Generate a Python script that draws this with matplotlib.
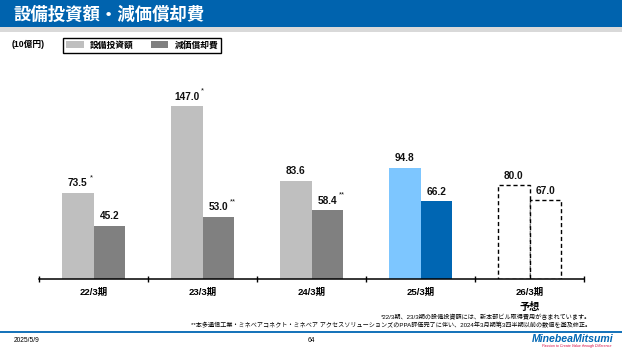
import matplotlib
matplotlib.use("Agg")
import matplotlib.pyplot as plt
from matplotlib.patches import Rectangle, Patch
from matplotlib.lines import Line2D

plt.rcParams["font.family"] = ["Liberation Sans", "Noto Sans CJK JP"]
plt.rcParams["axes.unicode_minus"] = False

# data (10億円)
periods = ["22/3期", "23/3期", "24/3期", "25/3期", "26/3期"]
capex = [73.5, 147.0, 83.6, 94.8, 80.0]
depreciation = [45.2, 53.0, 58.4, 66.2, 67.0]
capex_notes = ["*", "*", "", "", ""]
dep_notes = ["", "**", "**", "", ""]
forecast = [False, False, False, False, True]

series_names = ["設備投資額", "減価償却費"]
unit_label = "(10億円)"
title = "設備投資額・減価償却費"
forecast_label = "予想"
footnote1 = "*22/3期、23/3期の設備投資額には、新本部ビル取得費用が含まれています。"
footnote2 = ("**本多通信工業・ミネベアコネクト・ミネベア アクセスソリューションズのPPA評価完了に伴い、"
             "2024年3月期第3四半期以前の数値を遡及修正。")

LIGHT_GRAY = "#BFBFBF"
DARK_GRAY = "#808080"
LIGHT_BLUE = "#7DC6FF"
DARK_BLUE = "#0066B3"
HEADER_BLUE = "#0063AE"

W, H = 622, 350
fig = plt.figure(figsize=(W / 100, H / 100), dpi=100)
fig.patch.set_facecolor("white")


def fx(px):
    return px / W


def fy(py):
    return 1 - py / H


# header band
fig.patches.append(Rectangle((0, fy(27)), 1, 27 / H, transform=fig.transFigure,
                             facecolor=HEADER_BLUE, edgecolor="none", zorder=0))
fig.patches.append(Rectangle((0, fy(32)), 1, 5 / H, transform=fig.transFigure,
                             facecolor="#D9D9D9", edgecolor="none", zorder=0))
fig.text(fx(13), fy(15), title, color="white", fontsize=12.5, fontweight="bold",
         family=["Noto Sans CJK JP"], ha="left", va="center")

# axes
base_px, top_px = 279, 60
ax = fig.add_axes([fx(39), 1 - base_px / H, fx(584) - fx(39), (base_px - top_px) / H])
px_per_unit = 1.175
ax.set_ylim(0, (base_px - top_px) / px_per_unit)
ax.set_xlim(-0.5, len(periods) - 0.5)

bw = 0.292
x = list(range(len(periods)))


def label_bar(xc, val, note):
    t = ax.annotate(f"{val:.1f}", xy=(xc, val), xytext=(0, 3.2), textcoords="offset points",
                    ha="center", va="bottom", fontsize=7.3, fontweight="bold", color="#111111")
    if note:
        ax.annotate(note, xy=(1, 1), xycoords=t, xytext=(1.5, 3.0), textcoords="offset points",
                    ha="left", va="top", fontsize=5.5, color="#111111")


for i in x:
    if forecast[i]:
        for off, val in ((-bw / 2, capex[i]), (bw / 2, depreciation[i])):
            ax.bar(x[i] + off, val, width=bw, facecolor="white", edgecolor="black",
                   linewidth=1.0, linestyle=(0, (3, 2)), zorder=2)
    else:
        c1 = LIGHT_BLUE if i == 3 else LIGHT_GRAY
        c2 = DARK_BLUE if i == 3 else DARK_GRAY
        ax.bar(x[i] - bw / 2, capex[i], width=bw, color=c1, linewidth=0, zorder=2)
        ax.bar(x[i] + bw / 2, depreciation[i], width=bw, color=c2, linewidth=0, zorder=2)
    label_bar(x[i] - bw / 2, capex[i], capex_notes[i])
    label_bar(x[i] + bw / 2, depreciation[i], dep_notes[i])

for s in ("top", "left", "right"):
    ax.spines[s].set_visible(False)
ax.spines["bottom"].set_linewidth(1.1)
ax.spines["bottom"].set_zorder(3)
ax.set_yticks([])
ax.set_xticks(x)
ax.set_xticklabels(periods, fontsize=6.8, fontweight="bold")
ax.tick_params(axis="x", which="major", length=0, pad=6.5)
ax.set_xticks([i - 0.5 for i in range(len(periods) + 1)], minor=True)
ax.tick_params(axis="x", which="minor", direction="inout", length=5, width=1.0)
ax.patch.set_alpha(0)

# forecast label
ax.annotate(forecast_label, xy=(x[-1], 0), xycoords="data", xytext=(0, -20),
            textcoords="offset points", ha="center", va="center",
            fontsize=7.3, fontweight="bold")

# unit and legend
fig.text(fx(12), fy(44), unit_label, fontsize=6.3, fontweight="bold", ha="left", va="center")
handles = [Patch(facecolor=LIGHT_GRAY, edgecolor="none"),
           Patch(facecolor=DARK_GRAY, edgecolor="none")]
leg = fig.legend(handles, series_names, loc="upper left", bbox_to_anchor=(fx(63), fy(37.5)),
                 ncol=2, fontsize=6.3, frameon=True, fancybox=False, framealpha=1,
                 edgecolor="black", handlelength=2.0, handleheight=0.8, handletextpad=0.7,
                 columnspacing=2.0, borderpad=0.35, borderaxespad=0)
leg.get_frame().set_linewidth(1.0)
for t in leg.get_texts():
    t.set_fontweight("bold")

# footnotes
fig.text(fx(591), fy(317), footnote1, fontsize=4.4, ha="right", va="center")
fig.text(fx(591), fy(325.5), footnote2, fontsize=4.4, ha="right", va="center")

# footer
fig.add_artist(Line2D([0, 1], [fy(332), fy(332)], transform=fig.transFigure,
                      color=DARK_BLUE, linewidth=1.3))
fig.text(fx(14), fy(341), "2025/5/9", fontsize=4.8, ha="left", va="center")
fig.text(fx(311), fy(341), "64", fontsize=4.8, ha="center", va="center")
fig.text(fx(613), fy(339), "MinebeaMitsumi", fontsize=7.6, fontweight="bold", style="italic",
         color=DARK_BLUE, ha="right", va="center")
fig.text(fx(612), fy(346.5), "Passion to Create Value through Difference", fontsize=2.6,
         style="italic", color="#D9003C", ha="right", va="center")

fig.savefig("out.png", dpi=100, facecolor="white")
